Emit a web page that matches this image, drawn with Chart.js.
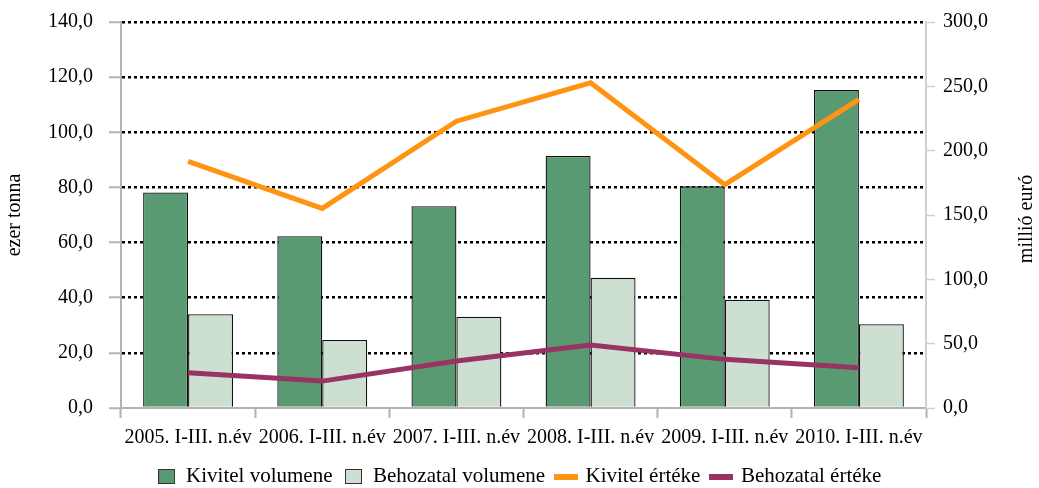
<!DOCTYPE html>
<html>
<head>
<meta charset="utf-8">
<script src="https://cdn.jsdelivr.net/npm/chart.js@4.4.0/dist/chart.umd.min.js"></script>
<style>
  html, body { margin: 0; padding: 0; background: #fff; }
  #wrap { width: 1039px; height: 488px; position: relative; }
</style>
</head>
<body>
<div id="wrap"><canvas id="chart"></canvas></div>
<script>
const categories = ['2005. I-III. n.év', '2006. I-III. n.év', '2007. I-III. n.év', '2008. I-III. n.év', '2009. I-III. n.év', '2010. I-III. n.év'];
const kivitelVolumen = [78.2, 62.3, 73.2, 91.4, 80.4, 115.3];
const behozatalVolumen = [34.0, 24.7, 33.1, 47.2, 39.3, 30.4];
const kivitelErtek = [191.6, 155.1, 222.9, 252.8, 173.6, 239.9];
const behozatalErtek = [27.4, 20.9, 36.5, 49.0, 37.8, 31.3];
const leftAxis = { min: 0, max: 140, step: 20, title: 'ezer tonna' };
const rightAxis = { min: 0, max: 300, step: 50, title: 'millió euró' };

const serif = 'Liberation Serif';
const fmt = v => v.toFixed(1).replace('.', ',');

const boxIcon = (fill) => {
    const c = document.createElement('canvas');
    c.width = 17; c.height = 15;
    const g = c.getContext('2d');
    g.fillStyle = fill;
    g.fillRect(0, 0, 17, 15);
    g.strokeStyle = '#333';
    g.lineWidth = 1;
    g.strokeRect(0.5, 0.5, 16, 14);
    return c;
};
const lineIcon = (color) => {
    const c = document.createElement('canvas');
    c.width = 24; c.height = 6;
    const g = c.getContext('2d');
    g.fillStyle = color;
    g.fillRect(0, 0, 24, 6);
    return c;
};

// jobb oldali tengelycím alulról felfelé olvasva
const rightTitle = {
    id: 'rightTitle',
    afterDraw(chart) {
        const { ctx, chartArea } = chart;
        const s = chart.scales.y1;
        ctx.save();
        ctx.translate(s.right - 12, (chartArea.top + chartArea.bottom) / 2 + 4);
        ctx.rotate(-Math.PI / 2);
        ctx.font = '20px "' + serif + '"';
        ctx.fillStyle = '#000';
        ctx.textAlign = 'center';
        ctx.textBaseline = 'middle';
        ctx.fillText(rightAxis.title, 0, 0);
        ctx.restore();
    }
};

const colors = ['#5a9a72', '#cddfd1', '#ff9412', '#993364'];
const icons = [boxIcon(colors[0]), boxIcon(colors[1]), lineIcon(colors[2]), lineIcon(colors[3])];
const tickFont = { family: serif, size: 20 };

new Chart(document.getElementById('chart'), {
    data: {
        labels: categories,
        datasets: [
            { type: 'bar', label: 'Kivitel volumene', data: kivitelVolumen, yAxisID: 'y', backgroundColor: colors[0], borderColor: '#111', borderWidth: 1.3, order: 1, categoryPercentage: 0.67, barPercentage: 1 },
            { type: 'bar', label: 'Behozatal volumene', data: behozatalVolumen, yAxisID: 'y', backgroundColor: colors[1], borderColor: '#111', borderWidth: 1.3, order: 1, categoryPercentage: 0.67, barPercentage: 1 },
            { type: 'line', label: 'Kivitel értéke', data: kivitelErtek, yAxisID: 'y1', borderColor: colors[2], backgroundColor: colors[2], borderWidth: 5, pointRadius: 0, tension: 0, borderJoinStyle: 'miter', order: 0 },
            { type: 'line', label: 'Behozatal értéke', data: behozatalErtek, yAxisID: 'y1', borderColor: colors[3], backgroundColor: colors[3], borderWidth: 5, pointRadius: 0, tension: 0, borderJoinStyle: 'miter', order: 0 }
        ]
    },
    options: {
        responsive: true,
        maintainAspectRatio: false,
        animation: false,
        layout: { padding: { top: 22, bottom: -9, left: 0, right: 0 } },
        plugins: {
            tooltip: { enabled: false },
            legend: {
                position: 'bottom',
                labels: {
                    font: { family: serif, size: 21 },
                    color: '#000',
                    usePointStyle: true,
                    pointStyleWidth: 18,
                    boxHeight: 15,
                    padding: 12,
                    generateLabels: chart => chart.data.datasets.map((ds, i) => ({
                        text: ds.label,
                        pointStyle: icons[i],
                        fillStyle: colors[i],
                        strokeStyle: colors[i],
                        lineWidth: 0,
                        fontColor: '#000',
                        hidden: false,
                        datasetIndex: i
                    }))
                }
            }
        },
        scales: {
            x: {
                offset: true,
                grid: { offset: true, drawOnChartArea: false, drawTicks: true, tickLength: 10, tickColor: '#b3b3b3', tickWidth: 2 },
                border: { color: '#b3b3b3', width: 2 },
                ticks: { font: tickFont, color: '#000', maxRotation: 0, autoSkip: false, padding: 8 },
                afterFit: s => { s.height = 46; }
            },
            y: {
                position: 'left',
                min: leftAxis.min, max: leftAxis.max,
                ticks: { stepSize: leftAxis.step, callback: fmt, font: tickFont, color: '#000', padding: 16 },
                grid: {
                    color: ctx => ctx.tick && ctx.tick.value === 0 ? 'rgba(0,0,0,0)' : '#000',
                    lineWidth: 2.5, tickColor: '#b3b3b3', tickLength: 12, tickWidth: 2, tickBorderDash: []
                },
                border: { color: '#b3b3b3', width: 2, dash: [3, 3] },
                title: { display: true, text: leftAxis.title, font: tickFont, color: '#000', padding: { top: 3, bottom: 0 } },
                afterFit: s => { s.width = 121; s.paddingTop = 0; s.paddingBottom = 0; }
            },
            y1: {
                position: 'right',
                min: rightAxis.min, max: rightAxis.max,
                ticks: { stepSize: rightAxis.step, callback: fmt, font: tickFont, color: '#000', padding: 8 },
                grid: { drawOnChartArea: false, tickColor: '#d0d0d0', tickLength: 9, tickWidth: 1.5 },
                border: { color: '#d0d0d0', width: 2 },
                afterFit: s => { s.width = 113; s.paddingTop = 0; s.paddingBottom = 0; }
            }
        }
    },
    plugins: [rightTitle]
});
</script>
</body>
</html>
